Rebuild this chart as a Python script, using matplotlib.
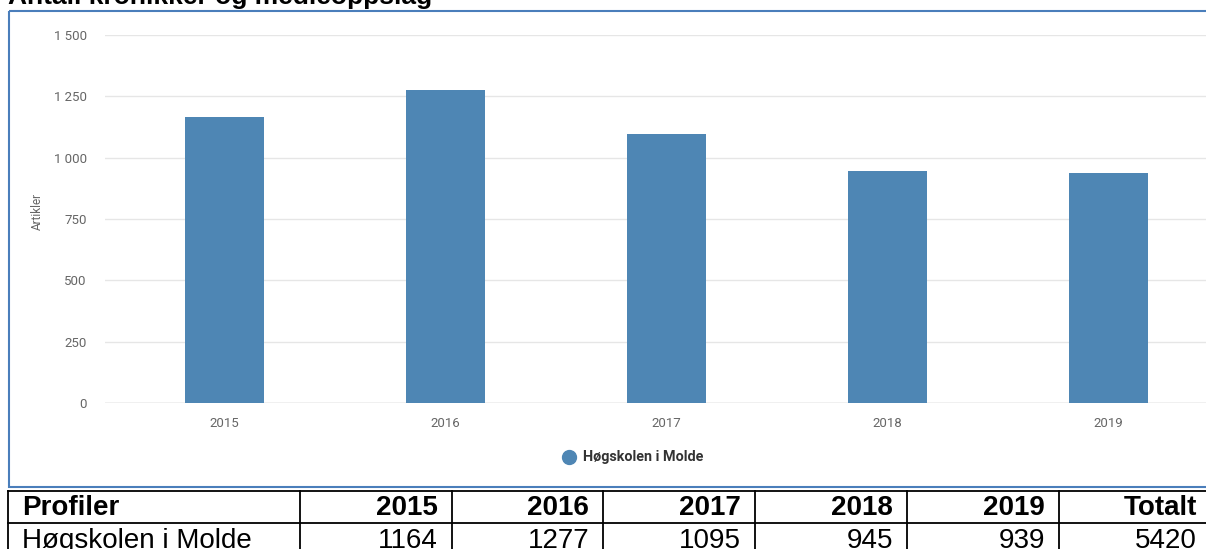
import matplotlib.pyplot as plt
from matplotlib.patches import Rectangle

# data
years = ["2015", "2016", "2017", "2018", "2019"]
values = [1164, 1277, 1095, 945, 939]
total = 5420
series_name = "Høgskolen i Molde"
yticks = [0, 250, 500, 750, 1000, 1250, 1500]
ytick_labels = ["0", "250", "500", "750", "1 000", "1 250", "1 500"]
table_header = ["Profiler"] + years + ["Totalt"]
table_row = [series_name] + [str(v) for v in values] + [str(total)]

W, H = 1206, 549
fig = plt.figure(figsize=(W / 100, H / 100), dpi=100)

# chart area (pixel layout)
left, right, top, bottom = 105, 1206, 35, 403
ax = fig.add_axes([left / W, 1 - bottom / H, (right - left) / W, (bottom - top) / H])
x = list(range(len(years)))
ax.bar(x, values, width=0.357, color="#4e86b4", zorder=3)
ax.set_xlim(-(224.5 - left) / 221, (right - 224.5) / 221)
ax.set_ylim(0, 1500)
ax.set_yticks(yticks)
ax.set_yticklabels(ytick_labels)
ax.set_xticks(x)
ax.set_xticklabels(years)
ax.tick_params(axis="y", length=0, pad=13, labelsize=9.5, labelcolor="#666666")
ax.tick_params(axis="x", length=0, pad=10, labelsize=9.5, labelcolor="#666666")
for lab in ax.get_xticklabels() + ax.get_yticklabels():
    lab.set_family("Roboto")
ax.grid(axis="y", color="#e6e6e6", linewidth=1, zorder=0)
for s in ax.spines.values():
    s.set_visible(False)
ax.axhline(0, color="#cccccc", linewidth=1, zorder=2)
ax.set_ylabel("Artikler", family="Roboto", fontsize=8.5, color="#666666")
ax.yaxis.set_label_coords((44 - left) / (right - left), 0.52)

# overlay in pixel coordinates for frame, title, legend and table
ov = fig.add_axes([0, 0, 1, 1], zorder=5)
ov.set_xlim(0, W)
ov.set_ylim(H, 0)
ov.axis("off")
ov.patch.set_visible(False)

ov.add_patch(Rectangle((9, 11), 1215 - 9, 487 - 11, fill=False,
                       edgecolor="#4a7ebb", linewidth=1.5))
ov.text(8, 4, "Antall kronikker og medieoppslag", family="Liberation Sans",
        fontweight="bold", fontsize=19, va="baseline", ha="left")

# legend
ov.plot([568.5], [457], "o", color="#4e86b4", markersize=10)
ov.text(583, 457, series_name, family="Roboto", fontweight="bold",
        fontsize=10.4, color="#333333", va="center", ha="left")

# table
col_edges = [8, 300, 452, 603, 755, 907, 1059, 1211]
row_edges = [491, 523, 556]
for xe in col_edges:
    ov.plot([xe, xe], [row_edges[0], row_edges[-1]], color="black", lw=1.3)
for ye in row_edges:
    ov.plot([col_edges[0], col_edges[-1]], [ye, ye], color="black", lw=1.3)

for i, (h, r) in enumerate(zip(table_header, table_row)):
    if i == 0:
        xt, ha = col_edges[0] + 14, "left"
    else:
        xt, ha = col_edges[i + 1] - 14, "right"
    ov.text(xt, 515, h, family="Liberation Sans", fontweight="bold",
            fontsize=20, va="baseline", ha=ha)
    ov.text(xt, 548, r, family="Liberation Sans", fontsize=20,
            va="baseline", ha=ha)

fig.savefig("out.png", dpi=100)
